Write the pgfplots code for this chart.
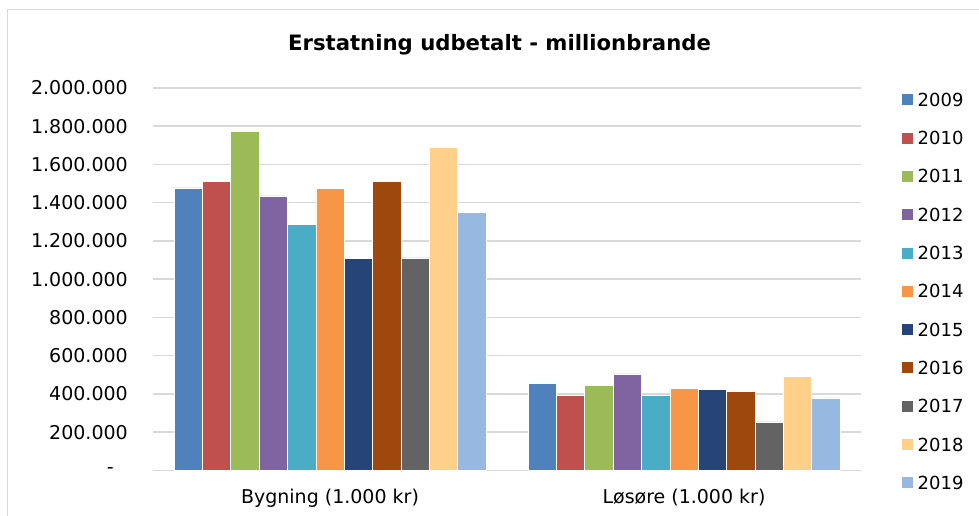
\documentclass[border=0pt]{standalone}
\usepackage{fontspec}
\setmainfont{DejaVu Sans}
\usepackage{pgfplots}
\pgfplotsset{compat=1.18}

\definecolor{c09}{HTML}{4F81BD}
\definecolor{c10}{HTML}{C0504D}
\definecolor{c11}{HTML}{9BBB59}
\definecolor{c12}{HTML}{8064A2}
\definecolor{c13}{HTML}{4BACC6}
\definecolor{c14}{HTML}{F79646}
\definecolor{c15}{HTML}{264478}
\definecolor{c16}{HTML}{9E480E}
\definecolor{c17}{HTML}{636363}
\definecolor{c18}{HTML}{FFD08A}
\definecolor{c19}{HTML}{97B8E0}
\definecolor{gridgray}{HTML}{D9D9D9}

\pgfplotsset{
  sq/.style={draw=white, line width=0.6pt,
    legend image code/.code={\fill[##1, draw=none] (0pt,-5.5pt) rectangle (11pt,5.5pt);}},
}

\begin{document}
\begin{tikzpicture}
\useasboundingbox (0pt,0pt) rectangle (979pt,516pt);
\fill[white] (0pt,0pt) rectangle (979pt,516pt);
% chart frame, cut off at right and bottom
\draw[gridgray, line width=1.5pt] (7.5pt,0pt) -- (7.5pt,506.5pt) -- (979pt,506.5pt);

\node[font=\fontsize{21.2}{21.2}\selectfont\bfseries, anchor=base] at (499.5pt,465.3pt)
  {Erstatning udbetalt - millionbrande};

\begin{axis}[
  at={(153pt,45.5pt)}, anchor=south west,
  scale only axis, width=708pt, height=382.5pt,
  font=\fontsize{19}{19}\selectfont,
  ybar=0pt, bar width=28.36pt,
  xmin=-0.5, xmax=1.5, ymin=0, ymax=2000000,
  xtick={0,1},
  xticklabels={Bygning (1.000 kr), Løsøre (1.000 kr)},
  ytick={0,200000,400000,600000,800000,1000000,1200000,1400000,1600000,1800000,2000000},
  yticklabels={-\hspace*{14pt},200.000,400.000,600.000,800.000,1.000.000,1.200.000,1.400.000,1.600.000,1.800.000,2.000.000},
  scaled y ticks=false,
  axis line style={draw=none},
  major tick length=0pt,
  ymajorgrids,
  major grid style={gridgray, line width=1.5pt},
  yticklabel style={anchor=east, inner sep=0pt, xshift=-25pt},
  xticklabel style={anchor=base, inner sep=0pt, yshift=-33pt},
  legend cell align=left,
  legend style={at={(1.0575,0.9861)}, anchor=north west, draw=none, fill=none,
    font=\fontsize{18}{18}\selectfont,
    inner sep=0pt, outer sep=0pt, row sep=25.3pt, column sep=5pt,
    nodes={inner sep=0pt, text height=13pt, text depth=0pt}},
]
\addplot[fill=c09, sq] coordinates {(0,1478000) (1,456000)};
\addplot[fill=c10, sq] coordinates {(0,1513000) (1,392000)};
\addplot[fill=c11, sq] coordinates {(0,1775000) (1,446000)};
\addplot[fill=c12, sq] coordinates {(0,1436000) (1,505000)};
\addplot[fill=c13, sq] coordinates {(0,1288000) (1,392000)};
\addplot[fill=c14, sq] coordinates {(0,1475000) (1,430000)};
\addplot[fill=c15, sq] coordinates {(0,1108000) (1,425000)};
\addplot[fill=c16, sq] coordinates {(0,1513000) (1,415000)};
\addplot[fill=c17, sq] coordinates {(0,1112000) (1,254000)};
\addplot[fill=c18, sq] coordinates {(0,1690000) (1,491000)};
\addplot[fill=c19, sq] coordinates {(0,1351000) (1,380000)};
\legend{2009,2010,2011,2012,2013,2014,2015,2016,2017,2018,2019}
\end{axis}
\end{tikzpicture}
\end{document}
